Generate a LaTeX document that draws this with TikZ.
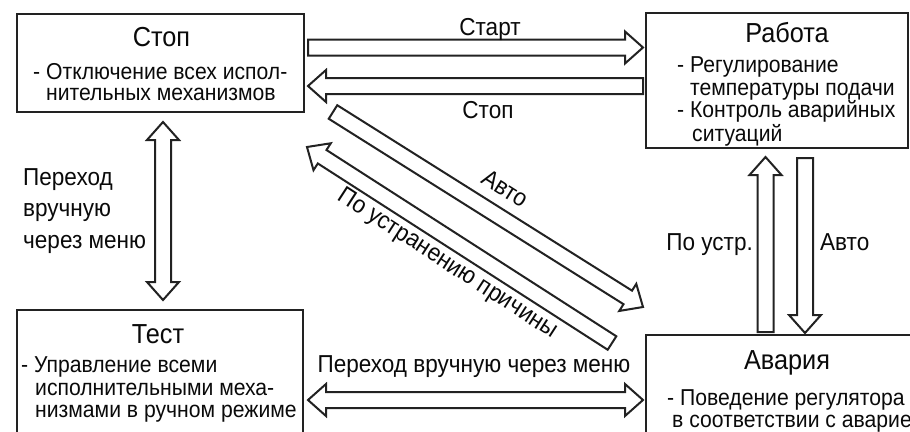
\documentclass[tikz,border=0pt]{standalone}
\usepackage{fontspec}
\setmainfont{Liberation Sans}[FakeStretch=0.92]
\usetikzlibrary{calc}
\definecolor{linec}{HTML}{222222}
\definecolor{txt}{HTML}{0A0A0A}
\tikzset{
  box/.style={draw=linec, line width=2pt, rectangle, inner sep=0pt, fill=none},
  arr/.style={draw=linec, line width=2pt, fill=white, line join=miter},
  ttl/.style={anchor=base, inner sep=0pt, text=txt, font=\fontsize{27.5}{30}\selectfont},
  bdy/.style={anchor=base west, inner sep=0pt, text=txt, font=\fontsize{23}{26}\selectfont},
  lbl/.style={inner sep=0pt, text=txt, font=\fontsize{24.5}{28}\selectfont},
}
% single block arrow: name, tail, tip
\newcommand\blkarrow[3]{%
  \coordinate (#1h) at ($(#3)!18pt!(#2)$);
  \path[arr] ($(#2)!8pt!90:(#3)$) -- ($(#1h)!8pt!90:(#3)$) -- ($(#1h)!16pt!90:(#3)$) -- (#3)
    -- ($(#1h)!16pt!-90:(#3)$) -- ($(#1h)!8pt!-90:(#3)$) -- ($(#2)!8pt!-90:(#3)$) -- cycle;}
% double block arrow: name, end A, end B
\newcommand\dblarrow[3]{%
  \coordinate (#1a) at ($(#2)!18pt!(#3)$);
  \coordinate (#1b) at ($(#3)!18pt!(#2)$);
  \path[arr] (#2) -- ($(#1a)!16pt!90:(#3)$) -- ($(#1a)!8pt!90:(#3)$) -- ($(#1b)!8pt!90:(#3)$)
    -- ($(#1b)!16pt!90:(#3)$) -- (#3) -- ($(#1b)!16pt!-90:(#3)$) -- ($(#1b)!8pt!-90:(#3)$)
    -- ($(#1a)!8pt!-90:(#3)$) -- ($(#1a)!16pt!-90:(#3)$) -- cycle;}
\begin{document}
\begin{tikzpicture}[x=1pt, y=-1pt]
\useasboundingbox (0,0) rectangle (910,431);
\clip (0,0) rectangle (910,431);
\fill[white] (0,0) rectangle (910,431);

% boxes
\node[box, minimum width=287pt, minimum height=98pt] (stop) at (160.5,63) {};
\node[box, minimum width=262pt, minimum height=135pt] (work) at (777,80.5) {};
\node[box, minimum width=286pt, minimum height=140pt] (test) at (160,380) {};
\node[box, minimum width=290pt, minimum height=130pt] (alarm) at (791,400) {};

% box texts
\node[ttl] (stopT) at (161.5,46) {Стоп};
\node[bdy] (stop1) at (33,79) {- Отключение всех испол-};
\node[bdy] (stop2) at (46,100) {нительных механизмов};

\node[ttl] (workT) at (787,42) {Работа};
\node[bdy] (work1) at (677,72) {- Регулирование};
\node[bdy] (work2) at (690,95) {температуры подачи};
\node[bdy] (work3) at (677,117.5) {- Контроль аварийных};
\node[bdy] (work4) at (692,141) {ситуаций};

\node[ttl] (testT) at (158,343) {Тест};
\node[bdy] (test1) at (21,372) {- Управление всеми};
\node[bdy] (test2) at (35,395) {исполнительными меха-};
\node[bdy] (test3) at (35,417) {низмами в ручном режиме};

\node[ttl] (alarmT) at (787,369) {Авария};
\node[bdy] (alarm1) at (667,405) {- Поведение регулятора};
\node[bdy] (alarm2) at (672,427) {в соответствии с аварие};

% arrow end points
\coordinate (c1) at (308,47.5);  \coordinate (c2) at (643,47.5);
\coordinate (c3) at (643,86);    \coordinate (c4) at (308,86);
\coordinate (c5) at (163,122);   \coordinate (c6) at (163,300);
\coordinate (c7) at (308,400);   \coordinate (c8) at (643,400);
\coordinate (c9) at (765.5,332); \coordinate (c10) at (765.5,157);
\coordinate (c11) at (805,158);  \coordinate (c12) at (805,333);
\coordinate (c13) at (333,112);  \coordinate (c14) at (643,307);
\coordinate (c15) at (612,343);  \coordinate (c16) at (307,147);

% arrows
\blkarrow{ar1}{c1}{c2}
\blkarrow{ar2}{c3}{c4}
\dblarrow{ar3}{c5}{c6}
\dblarrow{ar4}{c7}{c8}
\blkarrow{ar5}{c9}{c10}
\blkarrow{ar6}{c11}{c12}
\blkarrow{ar7}{c13}{c14}
\blkarrow{ar8}{c15}{c16}

% arrow labels
\node[lbl, anchor=base] (lStart) at (490,35) {Старт};
\node[lbl, anchor=base] (lStop) at (488,118) {Стоп};
\node[lbl, anchor=base west] (lMan1) at (23,185) {Переход};
\node[lbl, anchor=base west] (lMan2) at (23,216) {вручную};
\node[lbl, anchor=base west] (lMan3) at (23,248) {через меню};
\node[lbl, anchor=base] (lMan) at (474,372) {Переход вручную через меню};
\node[lbl, anchor=base east] (lFix) at (753,250) {По устр.};
\node[lbl, anchor=base west] (lAuto) at (820,250) {Авто};
\node[lbl, anchor=center, rotate=-32.2] (lAutoD) at (505,188.5) {Авто};
\node[lbl, anchor=center, rotate=-33] (lFixD) at (447.5,264) {По устранению причины};
\end{tikzpicture}
\end{document}
